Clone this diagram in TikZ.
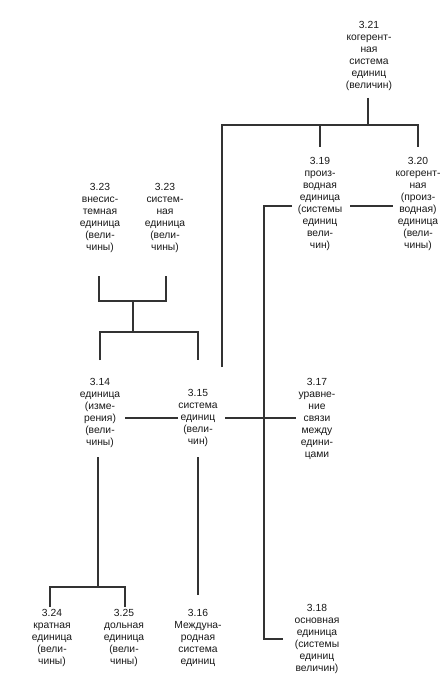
\documentclass[tikz,border=0pt]{standalone}
\usepackage{fontspec}
\setmainfont{Liberation Sans}
\begin{document}
\begin{tikzpicture}[x=1pt,y=-1pt,
  term/.style={anchor=north,inner sep=0pt,align=center,text=black!90,
    font={\fontsize{10.3}{12}\selectfont}},
  link/.style={draw=black!80,line width=1.1pt}]
\useasboundingbox[fill=white] (0,0) rectangle (445,682);
% nodes
\node[term] (n321) at (369,21) {3.21\\когерент-\\ная\\система\\единиц\\(величин)};
\node[term] (n319) at (320,157) {3.19\\произ-\\водная\\единица\\(системы\\единиц\\вели-\\чин)};
\node[term] (n320) at (418,157) {3.20\\когерент-\\ная\\(произ-\\водная)\\единица\\(вели-\\чины)};
\node[term] (n323a) at (100,183) {3.23\\внесис-\\темная\\единица\\(вели-\\чины)};
\node[term] (n323b) at (165,183) {3.23\\систем-\\ная\\единица\\(вели-\\чины)};
\node[term] (n314) at (100,378) {3.14\\единица\\(изме-\\рения)\\(вели-\\чины)};
\node[term] (n315) at (198,389) {3.15\\система\\единиц\\(вели-\\чин)};
\node[term] (n317) at (317,378) {3.17\\уравне-\\ние\\связи\\между\\едини-\\цами};
\node[term] (n324) at (52,609) {3.24\\кратная\\единица\\(вели-\\чины)};
\node[term] (n325) at (124,609) {3.25\\дольная\\единица\\(вели-\\чины)};
\node[term] (n316) at (198,609) {3.16\\Междуна-\\родная\\система\\единиц};
\node[term] (n318) at (317,604) {3.18\\основная\\единица\\(системы\\единиц\\величин)};
% junction coordinates
\coordinate (t0) at (368,98);
\coordinate (tj) at (368,125);
\coordinate (tl) at (222,125);
\coordinate (tr) at (418,125);
\coordinate (t19) at (320,147);
\coordinate (t20) at (418,147);
\coordinate (tb) at (222,367);
\coordinate (h19a) at (350,206);
\coordinate (h20a) at (393,206);
\coordinate (s19) at (292,206);
\coordinate (s19c) at (264,206);
\coordinate (s18c) at (264,639);
\coordinate (s18) at (283,639);
\coordinate (a1) at (99,276);
\coordinate (a2) at (166,276);
\coordinate (am) at (133,301);
\coordinate (bm) at (133,332);
\coordinate (b1) at (100,360);
\coordinate (b2) at (198,360);
\coordinate (h14) at (125,418);
\coordinate (h15a) at (178,418);
\coordinate (h15b) at (225,418);
\coordinate (h17) at (296,418);
\coordinate (d14) at (98,457);
\coordinate (d14j) at (98,587);
\coordinate (d24) at (50,607);
\coordinate (d25) at (125,607);
\coordinate (d15) at (198,457);
\coordinate (d16) at (198,595);
% connectors
\draw[link] (t0) -- (tj);
\draw[link] (tb) -- (tl) -- (tr) -- (t20);
\draw[link] (t19 |- tl) -- (t19);
\draw[link] (h19a) -- (h20a);
\draw[link] (s19) -- (s19c) -- (s18c) -- (s18);
\draw[link] (a1) |- (am) -| (a2);
\draw[link] (am) -- (bm);
\draw[link] (b1) |- (bm) -| (b2);
\draw[link] (h14) -- (h15a);
\draw[link] (h15b) -- (h17);
\draw[link] (d14) -- (d14j);
\draw[link] (d24) |- (d14j) -| (d25);
\draw[link] (d15) -- (d16);
\end{tikzpicture}
\end{document}
